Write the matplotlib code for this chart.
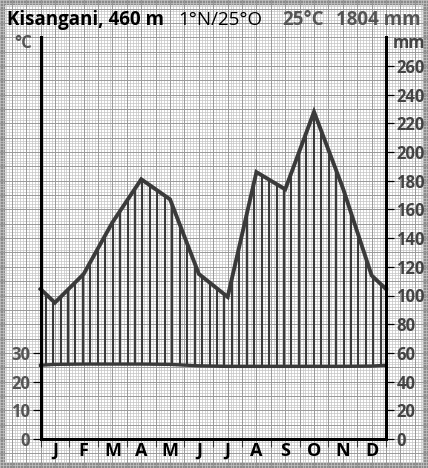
import numpy as np
import matplotlib.pyplot as plt
from matplotlib.patches import Rectangle

plt.rcParams['font.family'] = ['Open Sans', 'DejaVu Sans']

months = ["J", "F", "M", "A", "M", "J", "J", "A", "S", "O", "N", "D"]
temp = [26.0, 26.1, 26.1, 26.1, 26.0, 25.5, 25.3, 25.3, 25.3, 25.3, 25.3, 25.4]
precip = [95, 115, 151, 181, 167, 115, 99, 186, 174, 228, 175, 114]
temp_ticks = [0, 10, 20, 30]
precip_ticks = list(range(0, 261, 20))

W, H = 428, 468
fig = plt.figure(figsize=(W / 100, H / 100), dpi=100)

# plot box in pixels (from top-left)
x0, x1 = 40.5, 386.0
y0, y1 = 439.0, 37.0
px_month = (x1 - x0) / 12
px_mm = 1.435
ymax = (y0 - y1) / px_mm

# graph paper background, aligned with the plot scale
bg = fig.add_axes([0, 0, 1, 1])
bg.set_xlim(-x0 / px_month, (W - x0) / px_month)
bg.set_ylim(-(H - y0) / px_mm, y0 / px_mm)
bg.set_facecolor("#f2f2f2")
bg.axis("off")
vi = np.arange(-15, 136)
hi = np.arange(-12, 156)
bg.vlines(vi[(vi % 5) != 0] / 10, -50, 400, color="#c4c4c4", lw=0.5)
bg.hlines(hi[(hi % 5) != 0] * 2, -5, 15, color="#c4c4c4", lw=0.5)
bg.vlines(vi[(vi % 5) == 0] / 10, -50, 400, color="#989898", lw=0.7)
bg.hlines(hi[(hi % 5) == 0] * 2, -5, 15, color="#989898", lw=0.7)
bg.add_patch(Rectangle((0, 0), 1, 1, transform=fig.transFigure, fill=False,
                       edgecolor="#8a8a8a", lw=7.5, clip_on=False))

ax = fig.add_axes([x0 / W, (H - y0) / H, (x1 - x0) / W, (y0 - y1) / H])
ax.patch.set_alpha(0)
ax.set_xlim(0, 12)
ax.set_ylim(0, ymax)

# curves, closed at the year edges with the Dec/Jan mean
xs = np.concatenate([[0], np.arange(12) + 0.5, [12]])
p_edge = (precip[0] + precip[-1]) / 2
t_edge = (temp[0] + temp[-1]) / 2
p_line = np.concatenate([[p_edge], precip, [p_edge]])
t_line = np.concatenate([[t_edge], temp, [t_edge]]) * 2

hx = np.linspace(0.18, 11.82, 46)
ax.vlines(hx, np.interp(hx, xs, t_line), np.interp(hx, xs, p_line),
          color="#3a3a3a", lw=1.5)
ax.plot(xs, p_line, color="#3a3a3a", lw=2.8, solid_joinstyle="miter", clip_on=False)
ax.plot(xs, t_line, color="#3a3a3a", lw=2.4, clip_on=False)

for s in ["left", "right", "bottom"]:
    ax.spines[s].set_linewidth(2.2)
    ax.spines[s].set_color("black")
ax.spines["top"].set_visible(False)

ax.set_xticks(range(13))
ax.set_xticklabels([])
ax.set_xticks(np.arange(12) + 0.5, minor=True)
ax.set_xticklabels(months, minor=True, fontsize=13, fontweight="bold")
ax.tick_params(axis="x", which="major", direction="out", length=6, width=0.8, color="#333333")
ax.tick_params(axis="x", which="minor", length=0, pad=2)

ax.yaxis.tick_right()
ax.set_yticks(precip_ticks)
ax.tick_params(axis="y", direction="out", length=6, width=0.9, pad=1.5,
               labelsize=12, labelcolor="#444444")
for t in ax.get_yticklabels():
    t.set_fontweight("bold")

sec = ax.secondary_yaxis("left", functions=(lambda v: v / 2, lambda v: v * 2))
sec.set_yticks(temp_ticks)
sec.spines["left"].set_visible(False)
sec.tick_params(axis="y", direction="out", length=6, width=0.9, pad=1.5,
                labelsize=12, labelcolor="#555555")
for t in sec.get_yticklabels():
    t.set_fontweight("bold")

fig.text(14 / W, 1 - 43 / H, "°C", fontsize=12, fontweight="bold", color="#555555", va="center")
fig.text(393 / W, 1 - 43 / H, "mm", fontsize=12, fontweight="bold", color="#444444", va="center")

yt = 1 - 25 / H
fig.text(7 / W, yt, "Kisangani, 460 m", fontsize=13.5, fontweight="bold", color="black", va="baseline")
fig.text(178 / W, yt, "1°N/25°O", fontsize=13.5, color="black", va="baseline")
fig.text(282 / W, yt, "25°C", fontsize=13.5, fontweight="bold", color="#555555", va="baseline")
fig.text(421 / W, yt, "1804 mm", fontsize=13.5, fontweight="bold", color="#555555", va="baseline", ha="right")

fig.savefig("out.png", dpi=100)
